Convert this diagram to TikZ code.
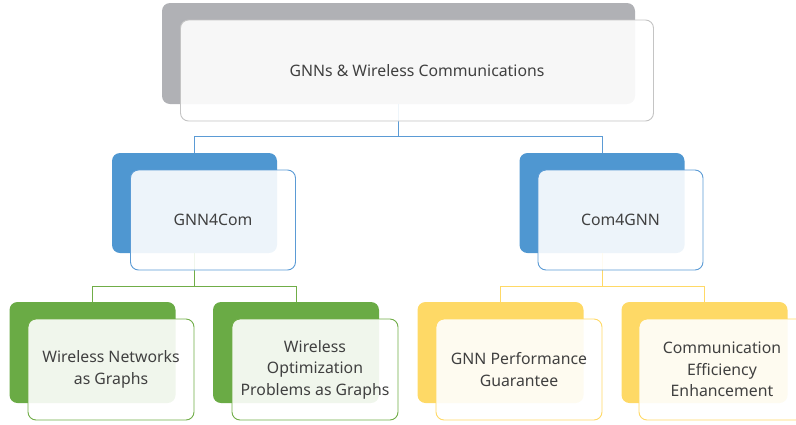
\documentclass[tikz,border=0pt]{standalone}
\usepackage{fontspec}
\setmainfont{Noto Sans}
\definecolor{grayback}{HTML}{B0B1B5}
\definecolor{grayline}{HTML}{C4C4C4}
\definecolor{blueback}{HTML}{4F97D1}
\definecolor{blueline}{HTML}{5B9BD5}
\definecolor{greenback}{HTML}{6AAB45}
\definecolor{greenline}{HTML}{70AD47}
\definecolor{yellowback}{HTML}{FED966}
\definecolor{yellowline}{HTML}{FFD966}
\definecolor{txt}{HTML}{404040}
\begin{document}
\begin{tikzpicture}[x=1pt,y=-1pt,
  backbox/.style={draw=none,fill=#1,rounded corners=8pt,inner sep=0pt},
  frontbox/.style={draw=#1,line width=0.9pt,fill=white,fill opacity=0.9,text opacity=1,rounded corners=8pt,inner sep=0pt,align=center,text=txt,font=\fontsize{15.8}{21.5}\selectfont},
  conn/.style={draw=#1,line width=0.9pt},
  top/.style={minimum width=473pt,minimum height=101pt},
  mid/.style={minimum width=165pt,minimum height=100pt},
  low/.style={minimum width=166pt,minimum height=101pt}]
\useasboundingbox (0,0) rectangle (796,424);
\clip (0,0) rectangle (796,424);
% back boxes
\node[backbox=grayback,top] (topb) at (398.5,53.5) {};
\node[backbox=blueback,mid] (gcb) at (194.5,203) {};
\node[backbox=blueback,mid] (cgb) at (602,203) {};
\node[backbox=greenback,low] (wnb) at (92.5,352.5) {};
\node[backbox=greenback,low] (wob) at (296,352.5) {};
\node[backbox=yellowback,low] (gpb) at (500.5,352.5) {};
\node[backbox=yellowback,low] (ceb) at (704.5,352.5) {};
% connectors
\coordinate (j1) at (398.5,136);
\coordinate (j2) at (194.5,286);
\coordinate (j3) at (602,286);
\draw[conn=blueline] (topb.south) -- (j1) -| (gcb.north);
\draw[conn=blueline] (j1) -| (cgb.north);
\draw[conn=greenline] (gcb.south) -- (j2) -| (wnb.north);
\draw[conn=greenline] (j2) -| (wob.north);
\draw[conn=yellowline] (cgb.south) -- (j3) -| (gpb.north);
\draw[conn=yellowline] (j3) -| (ceb.north);
% front boxes
\node[frontbox=grayline,top] (topf) at (417,70.5) {GNNs \& Wireless Communications};
\node[frontbox=blueline,mid] (gcf) at (213,220) {GNN4Com};
\node[frontbox=blueline,mid] (cgf) at (620.5,220) {Com4GNN};
\node[frontbox=greenline,low] (wnf) at (111,369.5) {Wireless Networks\\as Graphs};
\node[frontbox=greenline,low] (wof) at (315,369.5) {Wireless\\Optimization\\Problems as Graphs};
\node[frontbox=yellowline,low] (gpf) at (519,369.5) {GNN Performance\\Guarantee};
\node[frontbox=yellowline,low] (cef) at (722,369.5) {Communication\\Efficiency\\Enhancement};
\end{tikzpicture}
\end{document}
